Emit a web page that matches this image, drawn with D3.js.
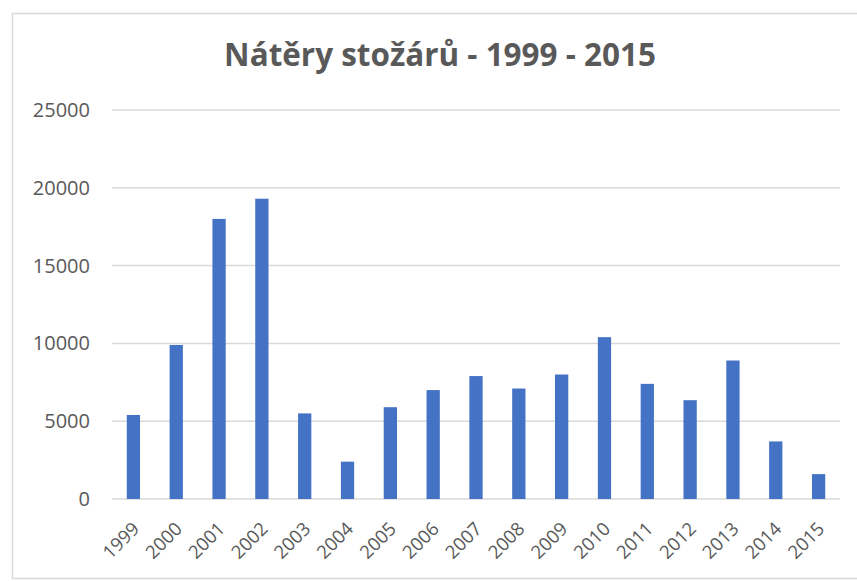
<!DOCTYPE html>
<html>
<head>
<meta charset="utf-8">
<script src="https://cdn.jsdelivr.net/npm/d3@7"></script>
<style>
  html, body { margin: 0; padding: 0; background: #ffffff; }
  svg { display: block; }
</style>
</head>
<body>
<svg id="chart" width="857" height="581"></svg>
<script>
const title = "Nátěry stožárů - 1999 - 2015";
const years = ["1999","2000","2001","2002","2003","2004","2005","2006","2007","2008","2009","2010","2011","2012","2013","2014","2015"];
const values = [5400, 9900, 18000, 19300, 5500, 2400, 5900, 7000, 7900, 7100, 8000, 10400, 7400, 6350, 8900, 3700, 1600];
const yTicks = [0, 5000, 10000, 15000, 20000, 25000];

const svg = d3.select("#chart");
const W = 857, H = 581;
const font = "'Open Sans', 'Liberation Sans', sans-serif";
const textColor = "#595959";

// chart border
svg.append("rect")
  .attr("x", 12.5).attr("y", 13.5)
  .attr("width", W + 20).attr("height", 565)
  .attr("fill", "#ffffff")
  .attr("stroke", "#d9d9d9").attr("stroke-width", 1.5);

const x = d3.scaleBand().domain(years).range([112, 840]).paddingInner(0.69).paddingOuter(0.345);
const y = d3.scaleLinear().domain([0, 25000]).range([499, 110]);

// gridlines
svg.append("g").selectAll("line").data(yTicks).join("line")
  .attr("x1", 112).attr("x2", 840)
  .attr("y1", d => y(d)).attr("y2", d => y(d))
  .attr("stroke", "#d9d9d9").attr("stroke-width", 1.5);

// y axis labels
const yAxis = d3.axisLeft(y).tickValues(yTicks).tickSize(0).tickPadding(0).tickFormat(d3.format("d"));
const gy = svg.append("g").attr("transform", "translate(90,0)").call(yAxis);
gy.select(".domain").remove();
gy.selectAll("text")
  .attr("fill", textColor)
  .style("font-family", font)
  .style("font-size", "20px");

// bars
svg.append("g").selectAll("rect").data(values).join("rect")
  .attr("x", (d, i) => x(years[i]))
  .attr("y", d => y(d))
  .attr("width", x.bandwidth())
  .attr("height", d => y(0) - y(d))
  .attr("fill", "#4472C4");

// x axis labels
const xAxis = d3.axisBottom(x).tickSize(0).tickPadding(0);
const gx = svg.append("g").attr("transform", "translate(0,499)").call(xAxis);
gx.select(".domain").remove();
gx.selectAll("text")
  .attr("fill", textColor)
  .style("font-family", font)
  .style("font-size", "18.5px")
  .attr("text-anchor", "end")
  .attr("dy", "0")
  .attr("y", 0)
  .attr("transform", "translate(7,31) rotate(-45)");

// title
const t = svg.append("text")
  .attr("x", 440).attr("y", 66)
  .attr("text-anchor", "middle")
  .attr("fill", textColor)
  .style("font-family", font)
  .style("font-weight", "bold")
  .style("font-size", "28px")
  .text(title);
const len = t.node().getComputedTextLength();
t.style("font-size", (28 * 432 / len).toFixed(2) + "px");
</script>
</body>
</html>
